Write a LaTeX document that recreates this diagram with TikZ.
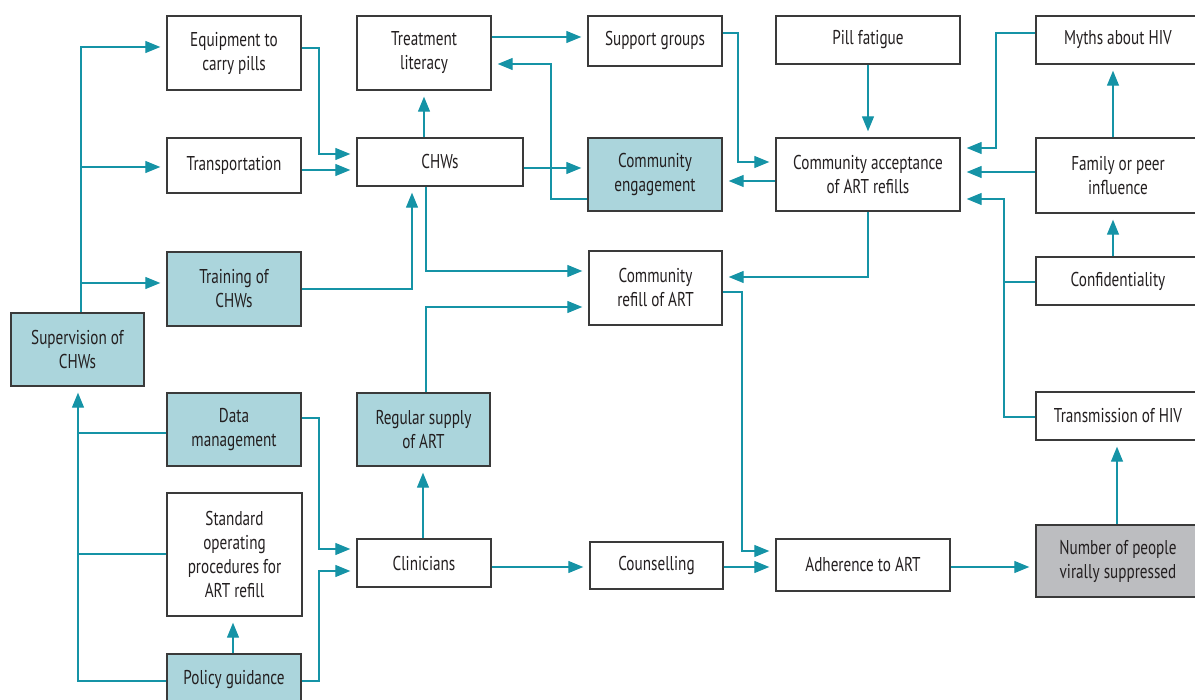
\documentclass[tikz,border=0pt]{standalone}
\usepackage{fontspec}
\setmainfont{PT Sans}[FakeStretch=0.76]
\usetikzlibrary{arrows.meta}
\definecolor{teal1}{HTML}{1593A6}
\definecolor{lblue}{HTML}{ABD5DC}
\definecolor{gfill}{HTML}{BCBDC0}
\definecolor{bord}{HTML}{3A3A3A}
\definecolor{txt}{HTML}{231F20}
\begin{document}
\begin{tikzpicture}[x=1pt,y=-1pt,
  box/.style={draw=bord,line width=1.4pt,fill=white,inner sep=0pt,align=center,
    text=txt,font=\fontsize{20}{24}\selectfont},
  hl/.style={box,fill=lblue},
  gr/.style={box,fill=gfill},
  ln/.style={draw=teal1,line width=1.3pt},
  arr/.style={ln,-{Triangle[length=15pt,width=12pt]},shorten >=6pt}]
\useasboundingbox (0,0) rectangle (1195,700);
\clip (0,0) rectangle (1195,700);
% nodes
\node[box,minimum width=134pt,minimum height=74pt] (eq) at (234,53) {Equipment to\\carry pills};
\node[box,minimum width=134pt,minimum height=74pt] (tl) at (424,53) {Treatment\\literacy};
\node[box,minimum width=134pt,minimum height=50pt] (sg) at (655,41) {Support groups};
\node[box,minimum width=184pt,minimum height=48pt] (pf) at (868,40) {Pill fatigue};
\node[box,minimum width=164pt,minimum height=48pt] (my) at (1118,40) {Myths about HIV};
\node[box,minimum width=134pt,minimum height=55pt] (tr) at (234,165.5) {Transportation};
\node[box,minimum width=166pt,minimum height=48pt] (chw) at (440,162) {CHWs};
\node[hl,minimum width=134pt,minimum height=73pt] (ce) at (655,174.5) {Community\\engagement};
\node[box,minimum width=184pt,minimum height=73pt] (ca) at (868,174.5) {Community acceptance\\of ART refills};
\node[box,minimum width=164pt,minimum height=75pt] (fp) at (1118,175.5) {Family or peer\\influence};
\node[hl,minimum width=134pt,minimum height=74pt] (trn) at (234,289) {Training of\\CHWs};
\node[hl,minimum width=133pt,minimum height=73pt] (sup) at (77.5,349.5) {Supervision of\\CHWs};
\node[box,minimum width=133pt,minimum height=74pt] (cr) at (655.5,288) {Community\\refill of ART};
\node[box,minimum width=164pt,minimum height=48pt] (cf) at (1118,281) {Confidentiality};
\node[hl,minimum width=134pt,minimum height=73pt] (dm) at (234,429.5) {Data\\management};
\node[hl,minimum width=133pt,minimum height=73pt] (rs) at (423.5,429.5) {Regular supply\\of ART};
\node[box,minimum width=164pt,minimum height=48pt] (th) at (1118,416) {Transmission of HIV};
\node[box,minimum width=135pt,minimum height=123pt] (sop) at (234.5,554.5) {Standard\\operating\\procedures for\\ART refill};
\node[box,minimum width=134pt,minimum height=48pt] (cl) at (424,563) {Clinicians};
\node[box,minimum width=133pt,minimum height=47pt] (co) at (656.5,565.5) {Counselling};
\node[box,minimum width=174pt,minimum height=52pt] (ad) at (863,565) {Adherence to ART};
\node[gr,minimum width=164pt,minimum height=72pt] (np) at (1118,561) {Number of people\\virally suppressed};
\node[hl,minimum width=134pt,minimum height=52pt] (pg) at (234,680) {Policy guidance};
% junction coordinates
\coordinate (jL1) at (81,167);
\coordinate (jL2) at (81,283);
\coordinate (jR1) at (1004,282);
\coordinate (jS1) at (78,433);
\coordinate (jS2) at (78,554);
% left trunk (supervision)
\draw[arr] (sup.north -| 81,0) |- (eq.west |- 0,47);
\draw[arr] (jL1) -- (tr.west |- jL1);
\draw[arr] (jL2) -- (trn.west |- jL2);
% into CHWs
\draw[arr] (eq.east |- 0,48) -| (319,154) -- (chw.west |- 0,154);
\draw[arr] (tr.east |- 0,170) -- (chw.west |- 0,170);
\draw[arr] (trn.east |- 0,289) -| (chw.south -| 412,0);
% from CHWs
\draw[arr] (chw.north -| 424,0) -- (tl.south -| 424,0);
\draw[arr] (chw.east |- 0,168) -- (ce.west |- 0,168);
\draw[arr] (chw.south -| 426,0) |- (cr.west |- 0,271);
% top row
\draw[arr] (tl.east |- 0,37) -- (sg.west |- 0,37);
\draw[arr] (ce.west |- 0,199) -| (551,64) -- (tl.east |- 0,64);
\draw[arr] (sg.east |- 0,33) -| (738,162) -- (ca.west |- 0,162);
\draw[arr] (ca.west |- 0,181) -- (ce.east |- 0,181);
\draw[arr] (pf.south) -- (ca.north);
% right column
\draw[arr] (my.west |- 0,33) -| (996,148) -- (ca.east |- 0,148);
\draw[arr] (fp.west |- 0,172) -- (ca.east |- 0,172);
\draw[arr] (fp.north -| 1113,0) -- (my.south -| 1113,0);
\draw[arr] (cf.north -| 1113,0) -- (fp.south -| 1113,0);
\draw[ln] (cf.west |- jR1) -- (jR1);
\draw[arr] (th.west |- 0,417) -| (1004,199) -- (ca.east |- 0,199);
\draw[arr] (np.north -| 1117,0) -- (th.south -| 1117,0);
% community refill
\draw[arr] (ca.south -| 868,0) |- (cr.east |- 0,277);
\draw[arr] (rs.north -| 426,0) |- (cr.west |- 0,307);
\draw[arr] (cr.east |- 0,292) -| (742,551) -- (ad.west |- 0,551);
% bottom row
\draw[arr] (cl.north -| 423,0) -- (rs.south -| 423,0);
\draw[arr] (cl.east |- 0,567) -- (co.west |- 0,567);
\draw[arr] (co.east |- 0,567) -- (ad.west |- 0,567);
\draw[arr] (ad.east |- 0,567) -- (np.west |- 0,567);
\draw[arr] (dm.east |- 0,418) -| (319,549) -- (cl.west |- 0,549);
\draw[arr] (pg.east |- 0,681) -| (319,571) -- (cl.west |- 0,571);
\draw[arr] (pg.north -| 233,0) -- (sop.south -| 233,0);
% left lower trunk
\draw[arr] (pg.west |- 0,681) -| (sup.south -| 78,0);
\draw[ln] (dm.west |- jS1) -- (jS1);
\draw[ln] (sop.west |- jS2) -- (jS2);
\end{tikzpicture}
\end{document}
